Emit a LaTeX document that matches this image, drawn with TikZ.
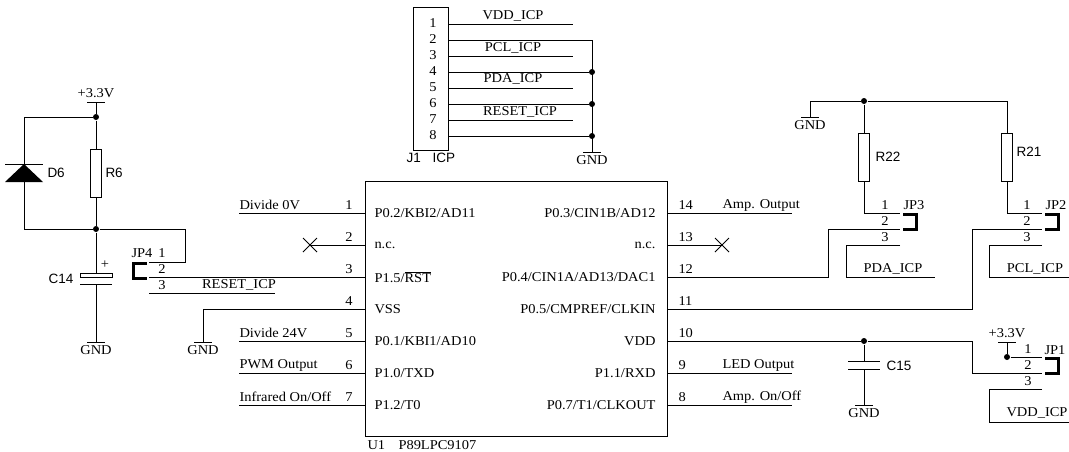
\documentclass[tikz,border=0pt]{standalone}
\usepackage{fontspec}
\setmainfont[FakeStretch=1.07]{Liberation Serif}
\newfontfamily\partfont{Liberation Sans}
\newcommand{\gndsym}[3]{
    \coordinate (#1) at (#2,#3);
    \draw ([xshift=-9pt]#1) -- ([xshift=9pt]#1);
    \node [lbl] (#1 text) at (#2,#3+8) {GND};
}
\begin{document}
\begin{tikzpicture}[x=1pt,y=-1pt,line width=1pt,
        lbl/.style={inner sep=0pt,font=\fontsize{13.5}{13.5}\selectfont},
        lble/.style={lbl,anchor=west},
        lblw/.style={lbl,anchor=east},
        part/.style={inner sep=0pt,anchor=west,font=\partfont\fontsize{13.5}{13.5}\selectfont},
        dot/.style={circle,fill,inner sep=0pt,minimum size=6pt},
        res/.style={draw,inner sep=0pt,minimum width=11pt,minimum height=48pt},
        jumper/.style={line width=3pt}]
    \useasboundingbox (0,0) rectangle (1069,451);
    % U1
    \node [draw,anchor=north west,inner sep=0pt,minimum width=302pt,minimum height=255pt] (u1) at (365,181) {};
    \node [lble] (u1 ref) at (367,445) {U1};
    \node [lble] (u1 val) at (398,445) {P89LPC9107};
    \foreach \n/\y/\pin in {1/213/{P0.2/KBI2/AD11},2/245/{n.c.},3/277/{P1.5/$\overline{\mbox{RST}}$},4/309/{VSS},5/341/{P0.1/KBI1/AD10},6/373/{P1.0/TXD},7/405/{P1.2/T0}} {
        \coordinate (pin\n) at (365,\y);
        \node [lbl] (num\n) at (349,\y-8) {\n};
        \node [lble] (name\n) at (374,\y) {\pin};
    }
    \foreach \n/\y/\pin in {14/213/{P0.3/CIN1B/AD12},13/245/{n.c.},12/277/{P0.4/CIN1A/AD13/DAC1},11/309/{P0.5/CMPREF/CLKIN},10/341/{VDD},9/373/{P1.1/RXD},8/405/{P0.7/T1/CLKOUT}} {
        \coordinate (pin\n) at (667,\y);
        \node [lble] (num\n) at (678,\y-8) {\n};
        \node [lblw] (name\n) at (656,\y) {\pin};
    }
    \foreach \n/\y/\txt in {1/213/Divide 0V,5/341/Divide 24V,6/373/PWM Output,7/405/{Infrared On/Off}} {
        \coordinate (net\n) at (239,\y);
        \node [lble] (net\n text) at (239,\y-8) {\txt};
        \draw (net\n) -- (pin\n);
    }
    \foreach \n/\y/\txt in {14/213/Amp. Output,9/373/LED Output,8/405/{Amp. On/Off}} {
        \coordinate (net\n) at (792,\y);
        \node [lble] (net\n text) at (722,\y-8) {\txt};
        \draw (pin\n) -- (net\n);
    }
    % not connected
    \coordinate (nc2) at (310,245);
    \coordinate (nc13) at (722,245);
    \draw (pin2) -- (nc2);
    \draw (pin13) -- (nc13);
    \foreach \c in {nc2,nc13}
        \draw ([shift={(-7,-7)}]\c) -- ([shift={(7,7)}]\c) ([shift={(-7,7)}]\c) -- ([shift={(7,-7)}]\c);
    % J1
    \node [draw,anchor=north west,inner sep=0pt,minimum width=35pt,minimum height=143pt] (j1) at (413,7) {};
    \node [part] (j1 ref) at (406,158) {J1};
    \node [part] (j1 val) at (432,158) {ICP};
    \foreach \n/\y in {1/24,2/40,3/56,4/72,5/88,6/104,7/120,8/136} {
        \coordinate (j1p\n) at (448,\y);
        \node [lbl] (j1num\n) at (433,\y-1) {\n};
    }
    \foreach \n/\y in {1/24,3/56,5/88,7/120} {
        \coordinate (j1net\n) at (573,\y);
        \draw (j1p\n) -- (j1net\n);
    }
    \node [lbl] (vddicp) at (513,16) {VDD\_ICP};
    \node [lbl] (pclicp) at (513,48) {PCL\_ICP};
    \node [lbl] (pdaicp) at (513,79) {PDA\_ICP};
    \node [lbl] (rsticp) at (520,112) {RESET\_ICP};
    \gndsym{gndj}{592}{152}
    \foreach \y/\n in {72/4,104/6,136/8} {
        \node [dot] (j1dot\n) at (592,\y) {};
        \draw (j1p\n) -- (j1dot\n);
    }
    \draw (j1p2) -| (gndj);
    % D6, R6, C14
    \coordinate (vcca) at (96,102);
    \draw ([xshift=-9pt]vcca) -- ([xshift=9pt]vcca);
    \node [lbl] (vcca text) at (96,93) {+3.3V};
    \node [dot] (top) at (96,117) {};
    \node [res] (r6) at (96,173) {};
    \node [part] (r6 text) at (105,173) {R6};
    \node [dot] (mid) at (96,229) {};
    \coordinate (d6k) at (24,164);
    \coordinate (d6a) at (24,182);
    \node [part] (d6 text) at (47,173) {D6};
    \fill (d6k) -- ([xshift=19pt]d6a) -- ([xshift=-19pt]d6a) -- cycle;
    \draw ([xshift=-19pt]d6k) -- ([xshift=19pt]d6k);
    \draw (vcca) -- (top) -- (r6.north);
    \draw (r6.south) -- (mid);
    \draw (top) -| (d6k);
    \draw (d6a) |- (mid);
    \node [draw,inner sep=0pt,minimum width=32pt,minimum height=4pt] (c14) at (96,275) {};
    \coordinate (c14b) at (96,284);
    \draw ([xshift=-16pt]c14b) -- ([xshift=16pt]c14b);
    \node [lbl] (c14 plus) at (105,265) {+};
    \node [part,anchor=center] (c14 text) at (61,279) {C14};
    \gndsym{gnda}{96}{342}
    \draw (mid) -- (c14.north);
    \draw (c14b) -- (gnda);
    % JP4
    \node [lbl] (jp4) at (142,253) {JP4};
    \foreach \n/\y in {1/253,2/269,3/285}
        \node [lbl] (jp4num\n) at (162,\y) {\n};
    \coordinate (jp4p1) at (149,262);
    \coordinate (jp4p2) at (149,277);
    \coordinate (jp4p3) at (149,293);
    \coordinate (jp4net) at (275,293);
    \node [lbl] (jp4 text) at (239,285) {RESET\_ICP};
    \draw (mid) -- (185,229) |- (jp4p1);
    \draw (jp4p2) -- (pin3);
    \draw (jp4p3) -- (jp4net);
    \draw [jumper] (147,263) -- (133.5,263) -- (133.5,278) -- (147,278);
    \gndsym{gndb}{203}{342}
    \draw (pin4) -| (gndb);
    % R22, R21
    \gndsym{gndc}{810}{117}
    \node [dot] (rtop) at (864,101) {};
    \coordinate (r21top) at (1007,101);
    \node [res] (r22) at (864,157.5) {};
    \node [res] (r21) at (1007,157.5) {};
    \node [part] (r22 text) at (875,157) {R22};
    \node [part] (r21 text) at (1016,152) {R21};
    \draw (gndc) |- (rtop) -- (r21top) -- (r21.north);
    \draw (rtop) -- (r22.north);
    % JP3
    \node [lbl] (jp3) at (914,205) {JP3};
    \foreach \n/\y in {1/205,2/221,3/237}
        \node [lbl] (jp3num\n) at (885,\y) {\n};
    \coordinate (jp3p1) at (900,213);
    \coordinate (jp3p2) at (900,229);
    \coordinate (jp3p3) at (900,245);
    \coordinate (jp3net) at (935,277);
    \node [lbl] (jp3 text) at (893,269) {PDA\_ICP};
    \draw (r22.south) |- (jp3p1);
    \draw (pin12) -- (828,277) |- (jp3p2);
    \draw (jp3p3) -- (846,245) |- (jp3net);
    \draw [jumper] (903,214) -- (916.5,214) -- (916.5,229) -- (903,229);
    % JP2
    \node [lbl] (jp2) at (1056,205) {JP2};
    \foreach \n/\y in {1/205,2/221,3/237}
        \node [lbl] (jp2num\n) at (1027,\y) {\n};
    \coordinate (jp2p1) at (1042,213);
    \coordinate (jp2p2) at (1042,229);
    \coordinate (jp2p3) at (1042,245);
    \coordinate (jp2net) at (1069,277);
    \node [lbl] (jp2 text) at (1035,269) {PCL\_ICP};
    \draw (r21.south) |- (jp2p1);
    \draw (pin11) -- (972,309) |- (jp2p2);
    \draw (jp2p3) -- (989,245) |- (jp2net);
    \draw [jumper] (1045,214) -- (1058.5,214) -- (1058.5,229) -- (1045,229);
    % C15
    \node [dot] (c15top) at (864,341) {};
    \coordinate (c15a) at (864,361);
    \coordinate (c15b) at (864,369);
    \node [part] (c15 text) at (886,366) {C15};
    \gndsym{gndd}{864}{405}
    \draw (pin10) -- (c15top) -- (c15a);
    \draw ([xshift=-16pt]c15a) -- ([xshift=16pt]c15a);
    \draw ([xshift=-16pt]c15b) -- ([xshift=16pt]c15b);
    \draw (c15b) -- (gndd);
    % JP1
    \coordinate (vccb) at (1007,342);
    \draw ([xshift=-9pt]vccb) -- ([xshift=9pt]vccb);
    \node [lbl] (vccb text) at (1007,333) {+3.3V};
    \node [lbl] (jp1) at (1055,350) {JP1};
    \foreach \n/\y in {1/349,2/365,3/381}
        \node [lbl] (jp1num\n) at (1028,\y) {\n};
    \node [dot] (jp1dot) at (1007,357) {};
    \coordinate (jp1p1) at (1042,357);
    \coordinate (jp1p2) at (1042,373);
    \coordinate (jp1p3) at (1042,389);
    \coordinate (jp1net) at (1069,422);
    \node [lbl] (jp1 text) at (1037,413) {VDD\_ICP};
    \draw (vccb) -- (jp1dot) -- (jp1p1);
    \draw (c15top) -- (972,341) |- (jp1p2);
    \draw (jp1p3) -- (989,389) |- (jp1net);
    \draw [jumper] (1045,358) -- (1058.5,358) -- (1058.5,373) -- (1045,373);
\end{tikzpicture}
\end{document}
